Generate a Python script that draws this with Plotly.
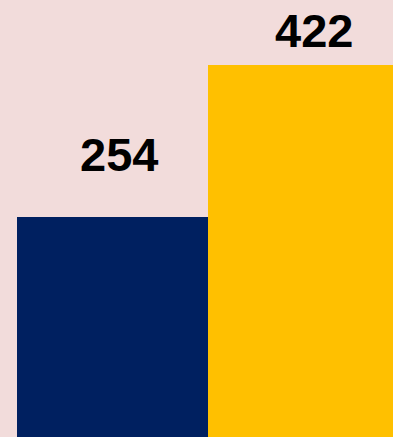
import plotly.graph_objects as go

# Two-category comparison
categories = ["A", "B"]
values = [254, 422]
bar_colors = ["#002060", "#FFC000"]

fig = go.Figure()
fig.add_trace(go.Bar(
    x=list(range(len(categories))),
    y=values,
    marker=dict(color=bar_colors, line=dict(width=0)),
    width=1.0,
    hoverinfo="skip",
))

# value labels above each bar
label_offsets = [(6.5, 62), (10, 34)]
for i, (v, (dx, dy)) in enumerate(zip(values, label_offsets)):
    fig.add_annotation(
        x=i, y=v, text=f"<b>{v}</b>", showarrow=False,
        xanchor="center", yanchor="middle", xshift=dx, yshift=dy,
        font=dict(family="Liberation Sans Narrow, Arial Narrow, Liberation Sans, sans-serif",
                  size=47, color="#000000"),
    )

fig.update_layout(
    width=393, height=437,
    margin=dict(l=0, r=0, t=0, b=0),
    paper_bgcolor="#F2DCDB",
    plot_bgcolor="#F2DCDB",
    bargap=0,
    showlegend=False,
    xaxis=dict(range=[-0.589, 1.4686], visible=False, fixedrange=True),
    yaxis=dict(range=[10.7, 493.8], visible=False, fixedrange=True),
)

fig.write_html("out.html", config={"displayModeBar": False})
